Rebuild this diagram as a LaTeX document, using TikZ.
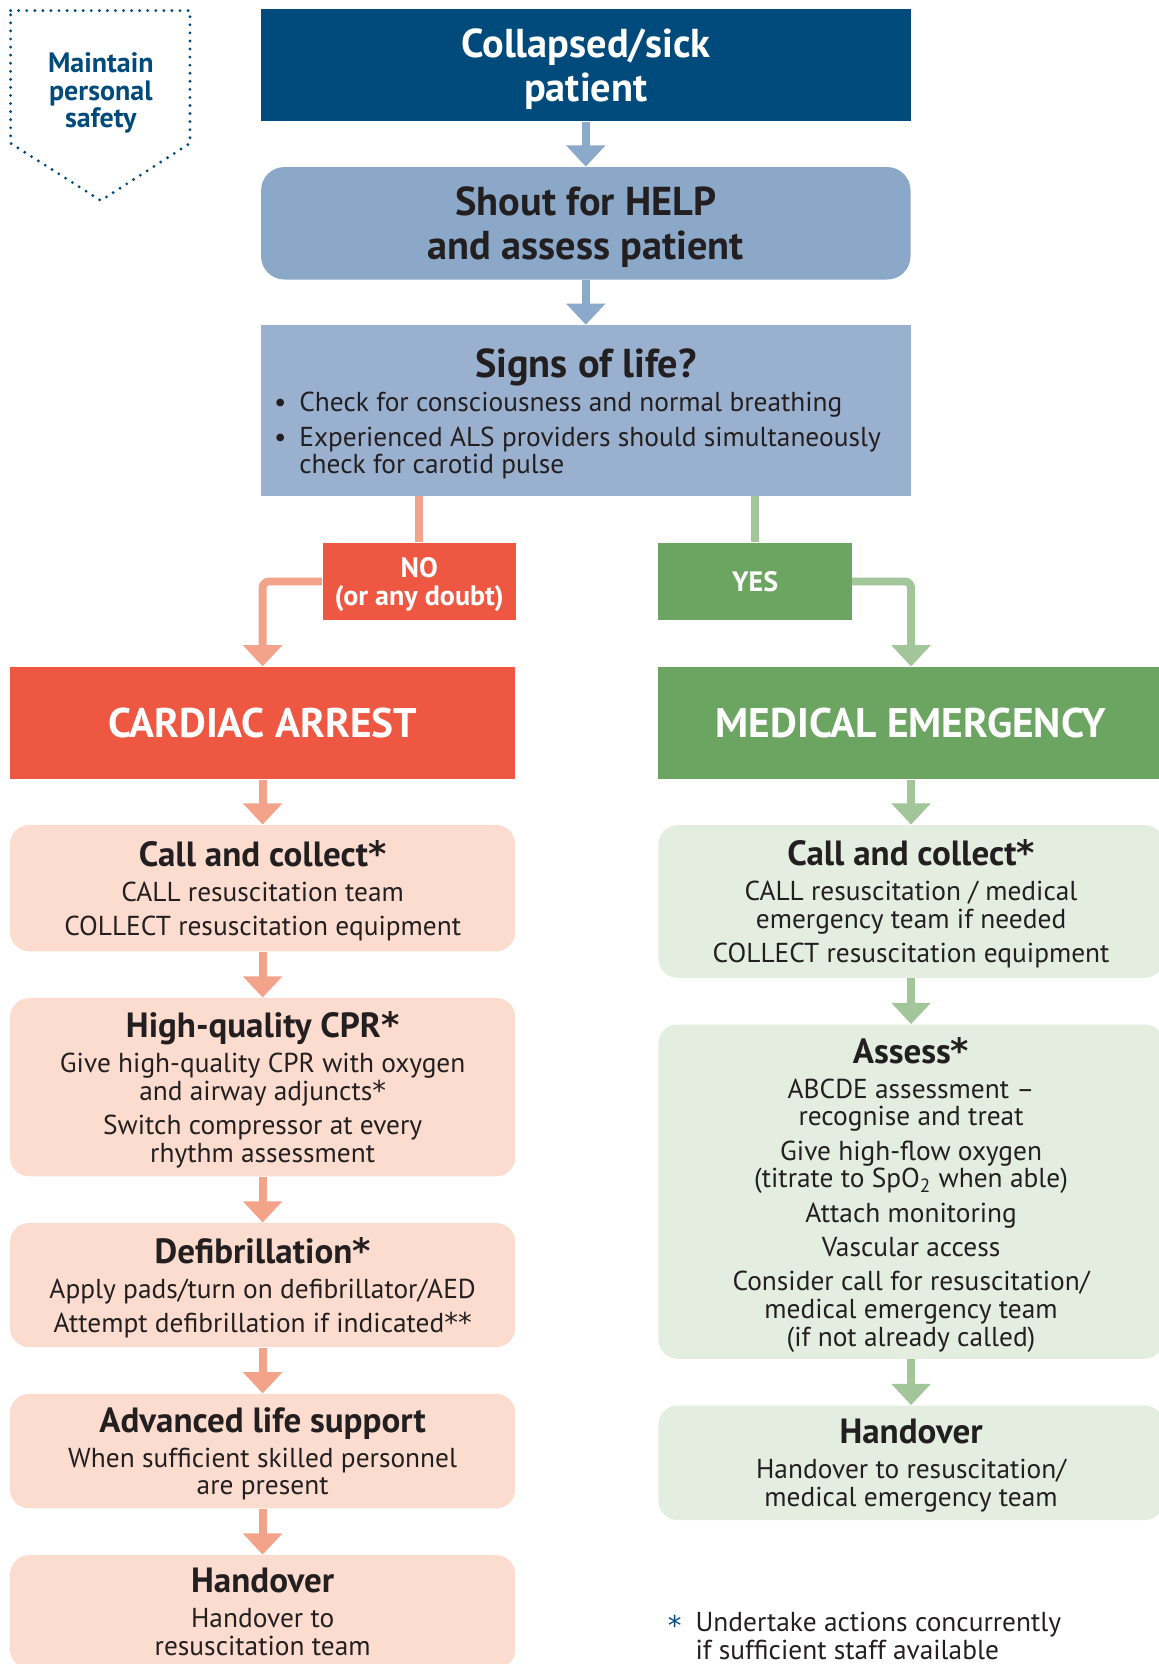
\documentclass[tikz,border=0pt]{standalone}
\usepackage{xcolor}
\usepackage{fontspec}
\setmainfont{PT Sans}
\newfontfamily\starfamily{DejaVu Sans}
\usetikzlibrary{arrows.meta}

\definecolor{rcblue}{HTML}{004A7C}
\definecolor{shoutfill}{HTML}{8BA8C9}
\definecolor{signsfill}{HTML}{9AB0CF}
\definecolor{bluearrow}{HTML}{8BA9CA}
\definecolor{rcred}{HTML}{EE5843}
\definecolor{salmon}{HTML}{F4A38B}
\definecolor{peach}{HTML}{FBDCCF}
\definecolor{rcgreen}{HTML}{6CA562}
\definecolor{sage}{HTML}{A2C599}
\definecolor{palegreen}{HTML}{E3EDE0}
\definecolor{ink}{HTML}{231F20}

\newcommand\headfont{\fontsize{19}{20.5}\selectfont\bfseries}
\newcommand\branchfont{\fontsize{19.5}{21}\selectfont\bfseries}
\newcommand\titlefont{\fontsize{16.5}{17}\selectfont\bfseries}
\newcommand\bodyfont{\fontsize{12.9}{13}\selectfont}
\newcommand\labelfont{\fontsize{13.2}{13}\selectfont\bfseries}
\newcommand\rcstar{{\starfamily *}}

\begin{document}
\begin{tikzpicture}[x=0.5pt, y=-0.5pt,
    every node/.style={inner sep=0pt, align=center, text=ink},
    wide/.style={anchor=north, minimum width=306pt, minimum height=53pt, font=\headfont, text depth=0pt},
    flow/.style={anchor=north, minimum width=238pt, font=\bodyfont, rounded corners=9pt, text depth=0pt},
    redflow/.style={flow, fill=peach},
    greenflow/.style={flow, fill=palegreen},
    answer/.style={anchor=north, minimum width=91pt, minimum height=36.5pt, font=\labelfont, text=white, text depth=0pt},
    branch/.style={anchor=north, minimum width=238pt, minimum height=53pt, font=\branchfont, text=white},
    bluearr/.style={draw=bluearrow, line width=3.7pt, -{Triangle[width=18pt, length=10pt]}},
    redarr/.style={draw=salmon, line width=3.7pt, -{Triangle[width=18pt, length=10pt]}},
    greenarr/.style={draw=sage, line width=3.7pt, -{Triangle[width=18pt, length=10pt]}}]
  \useasboundingbox (0,0) rectangle (1092,1568);

  % personal safety
  \draw[rcblue, line width=1.5pt, line cap=round, dash pattern=on 0pt off 3.8pt]
    (10,10) -- (179,10) -- (179,135) -- (95,189) -- (10,135) -- cycle;
  \node[text=rcblue, font=\labelfont, text depth=0pt] (safety) at (95,85) {Maintain\\personal\\safety};

  % top of the chart
  \node[wide, fill=rcblue, text=white] (collapse) at (552,8) {Collapsed/sick\\patient};
  \node[wide, fill=shoutfill, rounded corners=11pt] (shout) at (552,157) {Shout for HELP\\and assess patient};
  \node[wide, fill=signsfill, minimum height=80.5pt] (signs) at (552,306) {};
  \node[font=\headfont] (signstitle) at (552,346) {Signs of life?};
  \node[font=\bodyfont, anchor=west] (signslist) at (258,412)
    {\begin{tabular}{@{}l@{\hspace{6pt}}l@{}}
      \textbullet & Check for consciousness and normal breathing\\[3pt]
      \textbullet & Experienced ALS providers should simultaneously\\
       & check for carotid pulse
    \end{tabular}};

  \node[answer, fill=rcred] (no) at (395,511) {NO\\(or any doubt)};
  \node[answer, fill=rcgreen] (yes) at (711.5,511) {YES};

  \node[branch, fill=rcred] (cardiac) at (247.5,628) {CARDIAC ARREST};
  \node[branch, fill=rcgreen] (medical) at (858.5,628) {MEDICAL EMERGENCY};

  % cardiac arrest side
  \node[redflow, minimum height=59.5pt] (lcall) at (247.5,777)
    {{\titlefont Call and collect\rcstar}\\[3.5pt]
     CALL resuscitation team\\[3.2pt]
     COLLECT resuscitation equipment};
  \node[redflow, minimum height=84pt] (lcpr) at (247.5,940)
    {{\titlefont High-quality CPR\rcstar}\\[3.5pt]
     Give high-quality CPR with oxygen\\
     and airway adjuncts{\mdseries\rcstar}\\[3.2pt]
     Switch compressor at every\\
     rhythm assessment};
  \node[redflow, minimum height=58.5pt] (ldefib) at (247.5,1152)
    {{\titlefont Defibrillation\rcstar}\\[3.5pt]
     Apply pads/turn on defibrillator/AED\\[3.2pt]
     Attempt defibrillation if indicated\rcstar\rcstar};
  \node[redflow, minimum height=54pt] (lals) at (247.5,1313)
    {{\titlefont Advanced life support}\\[3.5pt]
     When sufficient skilled personnel\\
     are present};
  \node[redflow, minimum height=53.5pt] (lhand) at (247.5,1465)
    {{\titlefont Handover}\\[3.5pt]
     Handover to\\
     resuscitation team};

  % medical emergency side
  \node[greenflow, minimum height=72pt] (rcall) at (858.5,777)
    {{\titlefont Call and collect\rcstar}\\[3.5pt]
     CALL resuscitation / medical\\
     emergency team if needed\\[3.2pt]
     COLLECT resuscitation equipment};
  \node[greenflow, minimum height=157.5pt] (rassess) at (858.5,965)
    {{\titlefont Assess\rcstar}\\[3.5pt]
     ABCDE assessment --\\
     recognise and treat\\[3.2pt]
     Give high-flow oxygen\\
     (titrate to SpO\textsubscript{2} when able)\\[3.2pt]
     Attach monitoring\\[3.2pt]
     Vascular access\\[3.2pt]
     Consider call for resuscitation/\\
     medical emergency team\\
     (if not already called)};
  \node[greenflow, minimum height=54pt] (rhand) at (858.5,1324)
    {{\titlefont Handover}\\[3.5pt]
     Handover to resuscitation/\\
     medical emergency team};

  \node[font=\bodyfont, text=rcblue, anchor=north west] (notestar) at (629,1522) {\rcstar};
  \node[font=\bodyfont, align=left, text depth=0pt, anchor=north west] (note) at (655,1519)
    {Undertake actions concurrently\\
     if sufficient staff available};

  % connectors
  \draw[bluearr] (collapse.south) -- (shout.north);
  \draw[bluearr] (shout.south) -- (signs.north);
  \draw[draw=salmon, line width=3.7pt] (no.north |- signs.south) -- (no.north);
  \draw[draw=sage, line width=3.7pt] (yes.north |- signs.south) -- (yes.north);
  \draw[redarr, rounded corners=3pt] (no.west) -| (cardiac.north);
  \draw[greenarr, rounded corners=3pt] (yes.east) -| (medical.north);
  \draw[redarr] (cardiac.south) -- (lcall.north);
  \draw[redarr] (lcall.south) -- (lcpr.north);
  \draw[redarr] (lcpr.south) -- (ldefib.north);
  \draw[redarr] (ldefib.south) -- (lals.north);
  \draw[redarr] (lals.south) -- (lhand.north);
  \draw[greenarr] (medical.south) -- (rcall.north);
  \draw[greenarr] (rcall.south) -- (rassess.north);
  \draw[greenarr] (rassess.south) -- (rhand.north);
\end{tikzpicture}
\end{document}
